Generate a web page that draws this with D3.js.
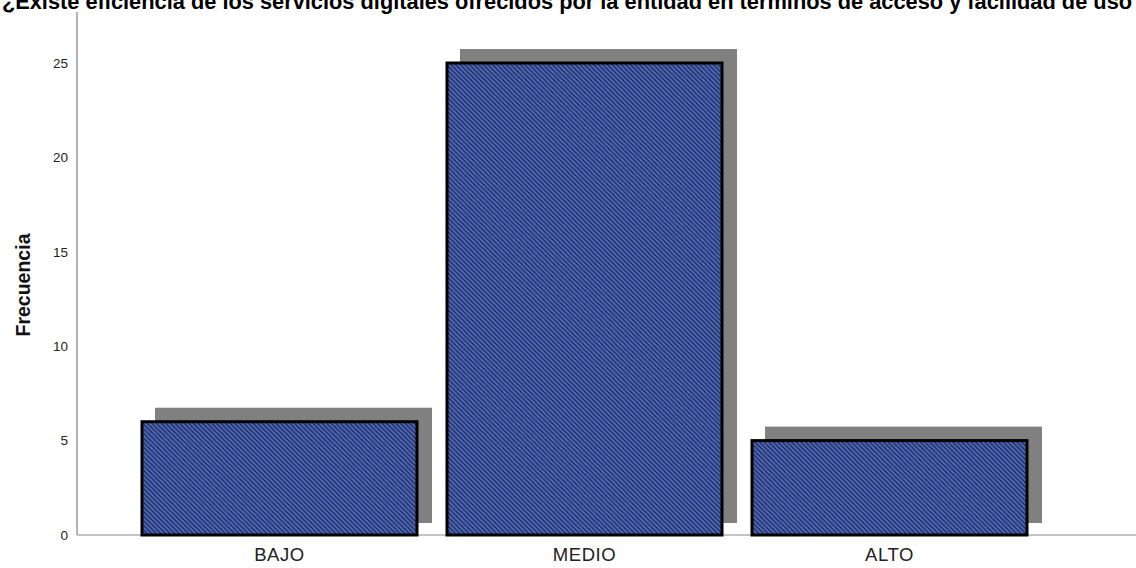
<!DOCTYPE html>
<html><head><meta charset="utf-8">
<script src="https://cdn.jsdelivr.net/npm/d3@7"></script>
<style>body{margin:0;background:#fff}svg{display:block}</style>
</head><body>
<svg id="c" width="1136" height="568"></svg>
<script>
const categories = ["BAJO", "MEDIO", "ALTO"];
const frequencies = [6, 25, 5];
const yTicks = [0, 5, 10, 15, 20, 25];
const titleText = "¿Existe eficiencia de los servicios digitales ofrecidos por la entidad en términos de acceso y facilidad de uso";
const yLabel = "Frecuencia";

const svg = d3.select("#c");
const defs = svg.append("defs");
const P = 4.6;
const pat = defs.append("pattern").attr("id","hatch").attr("patternUnits","userSpaceOnUse")
  .attr("width",P).attr("height",P);
pat.append("rect").attr("width",P).attr("height",P).attr("fill","#4d67bf");
pat.append("path").attr("d",`M${-P/4},${-P/4} L${P*1.25},${P*1.25} M${-P/4},${P*0.75} L${P/4},${P*1.25} M${P*0.75},${-P/4} L${P*1.25},${P/4}`)
  .attr("stroke","#141a30").attr("stroke-width",1.05);

const x = d3.scaleBand().domain(categories).range([127, 1042]).paddingInner(30/305).paddingOuter(15/305);
const y = d3.scaleLinear().domain([0, 25]).range([535, 63]);

// axes lines
svg.append("line").attr("x1",77).attr("x2",77).attr("y1",12).attr("y2",535).attr("stroke","#9a9a9a").attr("stroke-width",1.5);
svg.append("line").attr("x1",77).attr("x2",1136).attr("y1",535).attr("y2",535).attr("stroke","#8a8a8a").attr("stroke-width",1.2);

const yAxis = d3.axisLeft(y).tickValues(yTicks).tickSize(0).tickPadding(9).tickFormat(d3.format("d"));
const ga = svg.append("g").attr("transform","translate(77,0)").call(yAxis);
ga.select(".domain").remove();
ga.selectAll("text").attr("font-family","Arial, 'Liberation Sans'").attr("font-size",13.5).attr("fill","#222");

const xAxis = d3.axisBottom(x).tickSize(0).tickPadding(13);
const gx = svg.append("g").attr("transform","translate(0,535)").call(xAxis);
gx.select(".domain").remove();
gx.selectAll("text").attr("font-family","Arial, 'Liberation Sans'").attr("font-size",18.5).attr("letter-spacing","0.6px").attr("fill","#222");

// shadows
svg.append("g").selectAll("rect").data(frequencies).join("rect")
  .attr("x",(d,i)=>x(categories[i])+13)
  .attr("y",d=>y(d)-14)
  .attr("width",x.bandwidth()+2)
  .attr("height",d=>y(0)-y(d)+2)
  .attr("fill","#808080");

// bars
svg.append("g").selectAll("rect").data(frequencies).join("rect")
  .attr("x",(d,i)=>x(categories[i]))
  .attr("y",d=>y(d))
  .attr("width",x.bandwidth())
  .attr("height",d=>y(0)-y(d))
  .attr("fill","url(#hatch)")
  .attr("stroke","#000").attr("stroke-width",3);

svg.append("text").attr("x",567).attr("y",9).attr("text-anchor","middle")
  .attr("font-family","Arial, 'Liberation Sans'").attr("font-weight","bold").attr("font-size",21.8)
  .attr("fill","#000").text(titleText);

svg.append("text").attr("transform","translate(30,285) rotate(-90)").attr("text-anchor","middle")
  .attr("font-family","Arial, 'Liberation Sans'").attr("font-weight","bold").attr("font-size",19.5)
  .attr("fill","#111").text(yLabel);
</script>
</body></html>
